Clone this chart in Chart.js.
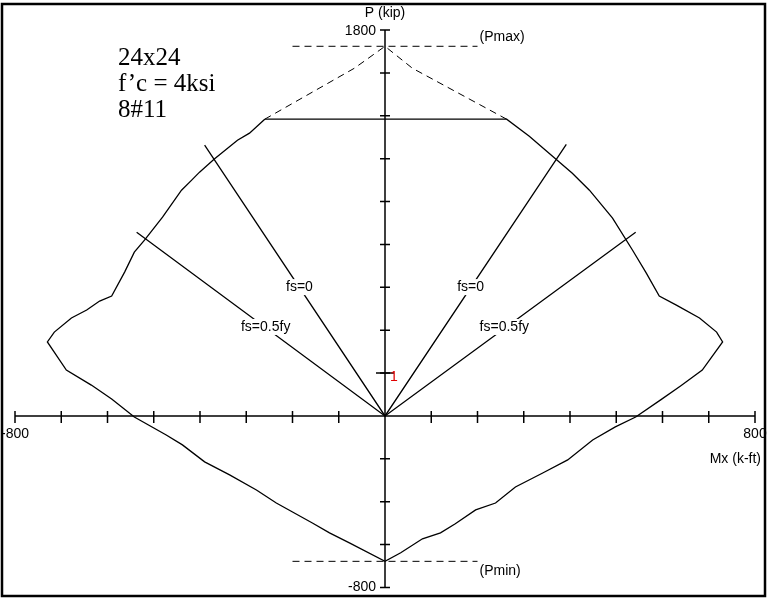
<!DOCTYPE html>
<html>
<head>
<meta charset="utf-8">
<script src="https://cdn.jsdelivr.net/npm/chart.js@4.4.1/dist/chart.umd.min.js"></script>
<style>
  html, body { margin: 0; padding: 0; background: #fff; }
  #wrap { width: 767px; height: 598px; }
</style>
</head>
<body>
<div id="wrap"><canvas id="pmChart" width="767" height="598"></canvas></div>
<script>
// interaction diagram values (M in k-ft, P in kip)
const envelopeM = [-260, -293, -319, -369, -401, -418, -440, -481, -520, -542, -563, -591, -617, -645, -678, -715, -730,
    -689, -635, -591, -542, -473, -438, -390, -336, -278, -235, -157, -120, -77, 0,
    34, 81, 120, 152, 196, 239, 282, 341, 395, 449, 498, 542, 596, 639, 686, 730,
    717, 680, 630, 593, 565, 535, 492, 442, 405, 312, 263, -260];
const envelopeP = [1384, 1319, 1286, 1198, 1137, 1100, 1053, 927, 820, 764, 671, 559, 536, 494, 457, 391, 345,
    214, 144, 79, -5, -89, -135, -214, -275, -345, -406, -499, -545, -592, -678,
    -638, -573, -545, -503, -438, -406, -331, -266, -205, -112, -51, -5, 75, 140, 214, 345,
    391, 457, 517, 559, 666, 774, 923, 1053, 1132, 1305, 1384, 1384];

// curve above the 0.8 Pmax cut-off (dashed)
const capM = [-260, -66, 0, 59, 263];
const capP = [1384, 1622, 1724, 1622, 1384];

const pmaxM = [-200, 200];
const pmaxP = [1724, 1724];
const pminM = [-200, 200];
const pminP = [-678, -678];

// strain lines through the origin
const fs0M = [-390, 0, 392];
const fs0P = [1263, 0, 1267];
const fsHalfM = [-537, 0, 542];
const fsHalfP = [857, 0, 857];

// load point "1"
const loadM = [0];
const loadP = [200];

const xTicks = [-800, -700, -600, -500, -400, -300, -200, -100, 0, 100, 200, 300, 400, 500, 600, 700, 800];
const yTicks = [-800, -600, -400, -200, 0, 200, 400, 600, 800, 1000, 1200, 1400, 1600, 1800];

const specLines = ["24x24", "f\u2019c = 4ksi", "8#11"];

function toPoints(ms, ps) {
    return ms.map((m, i) => ({ x: m, y: ps[i] }));
}

const SANS = "'Liberation Sans', Arial, sans-serif";
const SERIF = "'Liberation Serif', 'Times New Roman', serif";

const axesPlugin = {
    id: "axesPlugin",
    beforeDatasetsDraw(chart) {
        const ctx = chart.ctx;
        const xs = chart.scales.x, ys = chart.scales.y;
        const x0 = xs.getPixelForValue(0), y0 = ys.getPixelForValue(0);
        ctx.save();
        ctx.strokeStyle = "#000";
        ctx.lineWidth = 1.5;
        ctx.beginPath();
        ctx.moveTo(xs.getPixelForValue(xTicks[0]), y0);
        ctx.lineTo(xs.getPixelForValue(xTicks[xTicks.length - 1]), y0);
        ctx.moveTo(x0, ys.getPixelForValue(yTicks[yTicks.length - 1]));
        ctx.lineTo(x0, ys.getPixelForValue(yTicks[0]));
        xTicks.forEach(v => {
            const px = xs.getPixelForValue(v);
            ctx.moveTo(px, y0 - 5);
            ctx.lineTo(px, y0 + 7);
        });
        yTicks.forEach(v => {
            const py = ys.getPixelForValue(v);
            ctx.moveTo(x0 - 5, py);
            ctx.lineTo(x0 + 5, py);
        });
        ctx.stroke();
        ctx.restore();
    },
    afterDatasetsDraw(chart) {
        const ctx = chart.ctx;
        const xs = chart.scales.x, ys = chart.scales.y;
        const x0 = xs.getPixelForValue(0), y0 = ys.getPixelForValue(0);
        ctx.save();
        ctx.fillStyle = "#000";
        ctx.font = "14px " + SANS;
        ctx.textBaseline = "middle";

        // axis titles and end labels
        ctx.textAlign = "center";
        ctx.fillText("P (kip)", x0, 13);
        ctx.fillText(String(xTicks[0]), xs.getPixelForValue(xTicks[0]), y0 + 18);
        ctx.fillText(String(xTicks[xTicks.length - 1]), xs.getPixelForValue(xTicks[xTicks.length - 1]), y0 + 18);
        ctx.textAlign = "right";
        ctx.fillText(String(yTicks[yTicks.length - 1]), x0 - 9, ys.getPixelForValue(yTicks[yTicks.length - 1]) + 1);
        ctx.fillText(String(yTicks[0]), x0 - 9, ys.getPixelForValue(yTicks[0]));
        ctx.fillText("Mx (k-ft)", 761, y0 + 43);

        ctx.textAlign = "left";
        ctx.fillText("(Pmax)", xs.getPixelForValue(pmaxM[1]) + 2, ys.getPixelForValue(pmaxP[1]) - 9);
        ctx.fillText("(Pmin)", xs.getPixelForValue(pminM[1]) + 2, ys.getPixelForValue(pminP[1]) + 10);

        // strain line labels on white boxes
        const tags = [
            ["fs=0", -185, 601], ["fs=0", 185, 601],
            ["fs=0.5fy", -258, 415], ["fs=0.5fy", 258, 415]
        ];
        ctx.textAlign = "center";
        tags.forEach(([t, m, p]) => {
            const px = xs.getPixelForValue(m), py = ys.getPixelForValue(p);
            const w = ctx.measureText(t).width;
            ctx.fillStyle = "#fff";
            ctx.fillRect(px - w / 2 - 2, py - 8, w + 4, 16);
            ctx.fillStyle = "#000";
            ctx.fillText(t, px, py);
        });

        // load point number
        ctx.fillStyle = "#e00000";
        ctx.textAlign = "left";
        ctx.fillText("1", xs.getPixelForValue(loadM[0]) + 5, ys.getPixelForValue(loadP[0]) + 4);

        // section description
        ctx.fillStyle = "#000";
        ctx.font = "25px " + SERIF;
        ctx.textBaseline = "alphabetic";
        specLines.forEach((s, i) => ctx.fillText(s, 118, 65 + i * 26));

        // frame
        ctx.strokeStyle = "#000";
        ctx.lineWidth = 2.5;
        ctx.strokeRect(2, 4, 763, 592);
        ctx.restore();
    }
};

const solid = { showLine: true, borderColor: "#000", borderWidth: 1.3, pointRadius: 0, tension: 0, fill: false };
const dashed = Object.assign({}, solid, { borderWidth: 1, borderDash: [7, 5] });

new Chart(document.getElementById("pmChart"), {
    type: "scatter",
    data: {
        datasets: [
            Object.assign({ label: "envelope", data: toPoints(envelopeM, envelopeP) }, solid),
            Object.assign({ label: "cap", data: toPoints(capM, capP) }, dashed),
            Object.assign({ label: "Pmax", data: toPoints(pmaxM, pmaxP) }, dashed),
            Object.assign({ label: "Pmin", data: toPoints(pminM, pminP) }, dashed),
            Object.assign({ label: "fs=0", data: toPoints(fs0M, fs0P) }, solid),
            Object.assign({ label: "fs=0.5fy", data: toPoints(fsHalfM, fsHalfP) }, solid),
            {
                label: "load", data: toPoints(loadM, loadP), showLine: false,
                pointStyle: "line", pointRadius: 9, borderColor: "#000", borderWidth: 1.5
            }
        ]
    },
    options: {
        responsive: false,
        animation: false,
        layout: { padding: { left: 15, right: 12, top: 30, bottom: 10 } },
        plugins: { legend: { display: false }, tooltip: { enabled: false } },
        scales: {
            x: { type: "linear", min: -800, max: 800, display: false },
            y: { type: "linear", min: -800, max: 1800, display: false }
        }
    },
    plugins: [axesPlugin]
});
</script>
</body>
</html>
